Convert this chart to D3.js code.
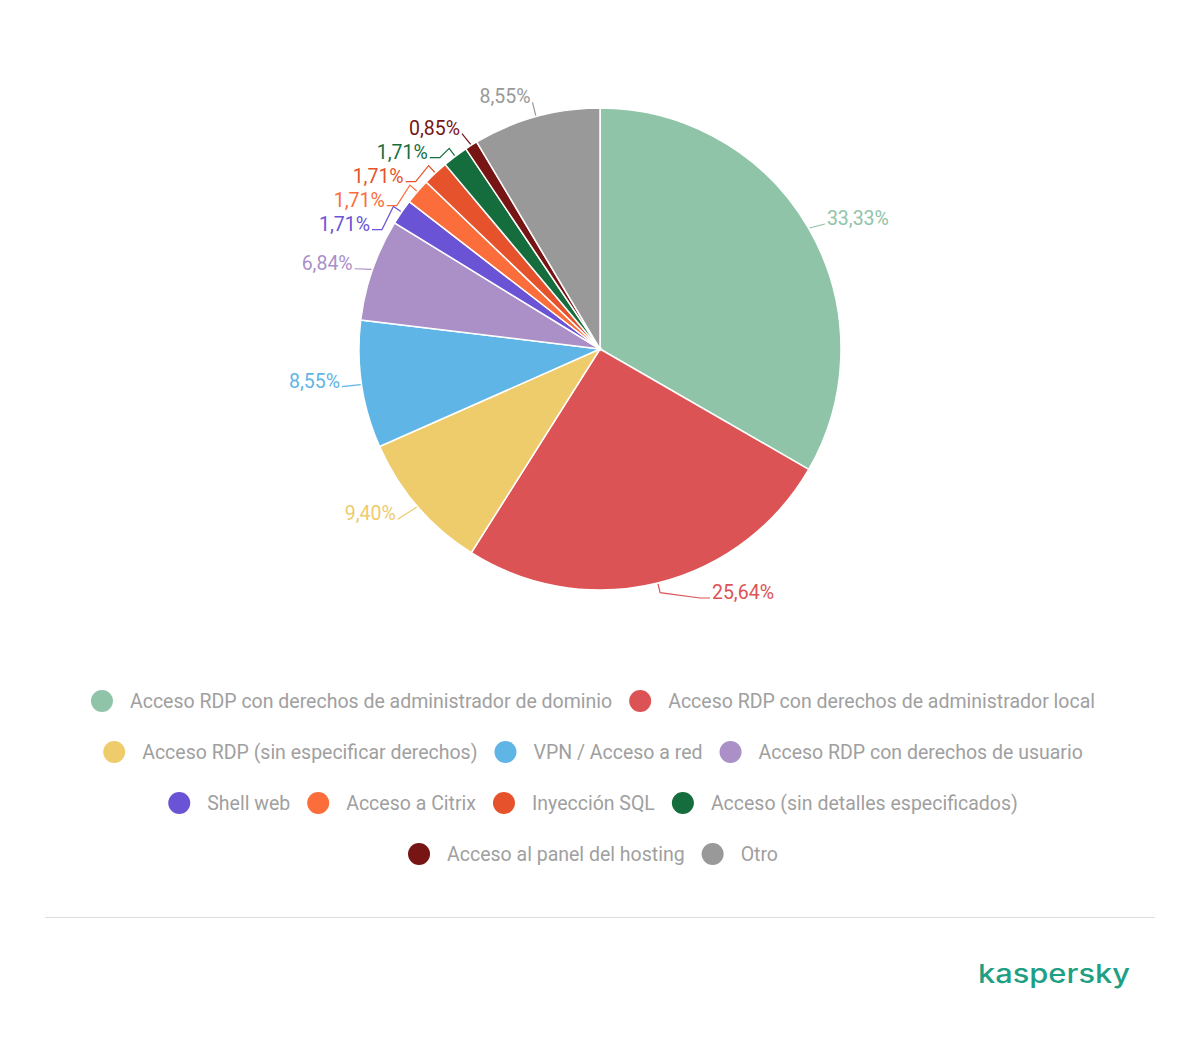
<!DOCTYPE html>
<html>
<head>
<meta charset="utf-8">
<script src="https://cdn.jsdelivr.net/npm/d3@7"></script>
<style>
    body { margin: 0; background: #fff; }
    svg { display: block; font-family: Roboto, "Noto Sans", sans-serif; }
</style>
</head>
<body>
<div id="chart"></div>
<script>
// Data (clockwise from 12 o'clock)
const categories = [
    'Acceso RDP con derechos de administrador de dominio',
    'Acceso RDP con derechos de administrador local',
    'Acceso RDP (sin especificar derechos)',
    'VPN / Acceso a red',
    'Acceso RDP con derechos de usuario',
    'Shell web',
    'Acceso a Citrix',
    'Inyección SQL',
    'Acceso (sin detalles especificados)',
    'Acceso al panel del hosting',
    'Otro'
];
const shares = [33.33, 25.64, 9.40, 8.55, 6.84, 1.71, 1.71, 1.71, 1.71, 0.85, 8.55];
const colors = [
    '#90c4a8', '#dc5355', '#eecb6b', '#5eb5e6', '#aa90c7', '#6b53d6',
    '#fb6d3b', '#e5522b', '#156d3e', '#771414', '#999999'
];

const width = 1200;
const height = 1040;
const cx = 600, cy = 349, radius = 241;
const labelRadius = 262;
const labelGap = 24;
const labelMaxY = 592;

const fmt = v => d3.format('.2f')(v).replace('.', ',') + '%';

const svg = d3.select('#chart')
    .append('svg')
    .attr('width', width)
    .attr('height', height);

const data = categories.map((name, i) => ({ name, value: shares[i], color: colors[i] }));

const pie = d3.pie().sort(null).value(d => d.value);
const arcs = pie(data);
const arc = d3.arc().innerRadius(0).outerRadius(radius);

const chart = svg.append('g').attr('transform', `translate(${cx},${cy})`);

chart.selectAll('path.slice')
    .data(arcs)
    .enter()
    .append('path')
    .attr('class', 'slice')
    .attr('d', arc)
    .attr('fill', d => d.data.color)
    .attr('stroke', '#fff')
    .attr('stroke-width', 1.5);

// Label placement: edge point on a circle, pushed apart vertically
const polar = (a, r) => [Math.sin(a) * r, -Math.cos(a) * r];

const labels = arcs.map(d => {
    const mid = (d.startAngle + d.endAngle) / 2;
    const [nx, ny] = polar(mid, labelRadius);
    // labels under the centre sit a little higher
    const natural = ny > 0 ? ny - 7 : ny;
    return {
        d, mid,
        side: nx < 0 ? -1 : 1,
        naturalY: natural,
        y: Math.min(natural, labelMaxY - cy)
    };
});

[-1, 1].forEach(side => {
    const group = labels.filter(l => l.side === side).sort((a, b) => a.y - b.y);
    for (let i = 1; i < group.length; i++) {
        if (group[i].y - group[i - 1].y < labelGap) {
            group[i].y = group[i - 1].y + labelGap;
        }
    }
});

labels.forEach(l => {
    const dy = Math.min(Math.abs(l.y), labelRadius - 1);
    l.x = l.side * Math.sqrt(labelRadius * labelRadius - dy * dy);
    l.shifted = Math.abs(l.y - l.naturalY) > 2;
    // clamped labels at the bottom are pushed further out
    if (l.y < l.naturalY - 2) l.x += l.side * 14;
});

const line = d3.line();

chart.selectAll('path.leader')
    .data(labels)
    .enter()
    .append('path')
    .attr('class', 'leader')
    .attr('fill', 'none')
    .attr('stroke', l => l.d.data.color)
    .attr('stroke-width', 1.2)
    .attr('d', l => {
        const a = polar(l.mid, radius + 1);
        const end = [l.x - l.side * 2, l.y + 6];
        if (!l.shifted) return line([a, end]);
        const b = polar(l.mid, radius + 10);
        const c = [end[0] - l.side * 10, end[1]];
        return line([a, b, c, end]);
    });

chart.selectAll('text.value')
    .data(labels)
    .enter()
    .append('text')
    .attr('class', 'value')
    .attr('x', l => l.x)
    .attr('y', l => l.y + 7)
    .attr('text-anchor', l => l.side < 0 ? 'end' : 'start')
    .attr('fill', l => l.d.data.color)
    .style('font-size', '19.5px')
    .text(l => fmt(l.d.data.value));

// Legend, wrapped and centred
const legendFont = 19.5;
const dotR = 11;
const dotGap = 17;
const itemGap = 17;
const maxRow = 1060;
const legendTop = 701;
const rowStep = 51;
const legendCenter = 593;

const legend = svg.append('g');
const items = legend.selectAll('g.item')
    .data(data)
    .enter()
    .append('g')
    .attr('class', 'item');

items.append('circle')
    .attr('r', dotR)
    .attr('fill', d => d.color);

items.append('text')
    .attr('x', dotR + dotGap)
    .attr('y', 7)
    .attr('fill', '#a0a0a0')
    .style('font-size', legendFont + 'px')
    .text(d => d.name);

const rows = [];
let row = [];
let rowWidth = 0;
items.each(function (d) {
    const w = dotR * 2 + dotGap + this.querySelector('text').getComputedTextLength();
    const add = row.length ? itemGap + w : w;
    if (row.length && rowWidth + add > maxRow) {
        rows.push({ items: row, width: rowWidth });
        row = [];
        rowWidth = 0;
    }
    row.push({ node: this, w });
    rowWidth += row.length > 1 ? itemGap + w : w;
});
if (row.length) rows.push({ items: row, width: rowWidth });

rows.forEach((r, ri) => {
    let x = legendCenter - r.width / 2;
    r.items.forEach(it => {
        d3.select(it.node).attr('transform', `translate(${x + dotR},${legendTop + ri * rowStep})`);
        x += it.w + itemGap;
    });
});

// Footer rule and brand
svg.append('line')
    .attr('x1', 45).attr('x2', 1155)
    .attr('y1', 917.5).attr('y2', 917.5)
    .attr('stroke', '#dedede')
    .attr('stroke-width', 1);

svg.append('text')
    .attr('x', 978)
    .attr('y', 983)
    .attr('fill', '#1fa084')
    .attr('textLength', 152)
    .attr('lengthAdjust', 'spacingAndGlyphs')
    .style('font-family', 'Inter, "DejaVu Sans", sans-serif')
    .style('font-weight', 500)
    .style('font-size', '26px')
    .text('kaspersky');
</script>
</body>
</html>
